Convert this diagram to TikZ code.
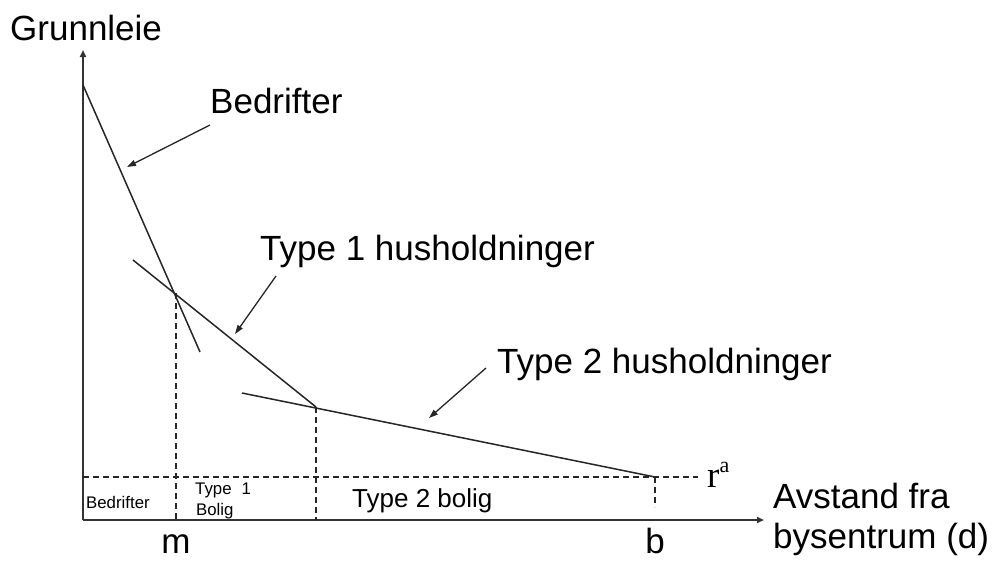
\documentclass[tikz,border=0pt]{standalone}
\usepackage{fontspec}
\setmainfont{Liberation Sans}
\newfontfamily\serifrm{Liberation Serif}
\usetikzlibrary{arrows.meta}
\begin{document}
\begin{tikzpicture}[x=1pt,y=-1pt,
  axis/.style={line width=1.8pt,draw=black!80,-{Triangle[length=7pt,width=6pt]}},
  curve/.style={line width=1.5pt,draw=black!85},
  guide/.style={line width=1.2pt,draw=black!85,dash pattern=on 6pt off 4pt},
  pointer/.style={line width=1.3pt,draw=black!85,-{Triangle[length=9pt,width=6pt]}},
  big/.style={font=\fontsize{35}{39}\selectfont,inner sep=0pt},
  mid/.style={font=\fontsize{26}{28}\selectfont,inner sep=0pt},
  small/.style={font=\fontsize{16.8}{19}\selectfont,inner sep=0pt}]
\useasboundingbox (0,0) rectangle (993,560);
% key points
\coordinate (O) at (83,520);
\coordinate (ytop) at (83,50);
\coordinate (xend) at (764,520);
\coordinate (B0) at (83,85);
\coordinate (B1) at (200,352);
\coordinate (T1a) at (133,260);
\coordinate (T1b) at (316,407);
\coordinate (T2a) at (242,393);
\coordinate (T2b) at (655,477);
\coordinate (M) at (176,293);
\coordinate (Mbot) at (176,520);
\coordinate (K) at (316,407);
\coordinate (Kbot) at (316,520);
\coordinate (Bb) at (655,477);
\coordinate (Bbot) at (655,507);
\coordinate (Ra0) at (83,477);
\coordinate (Ra1) at (698,477);
% axes
\draw[axis] (O) -- (ytop);
\draw[axis] (O) -- (xend);
% guides
\draw[guide] (Ra0) -- (Ra1);
\draw[guide] (M) -- (Mbot);
\draw[guide] (K) -- (Kbot);
\draw[guide] (Bb) -- (Bbot);
% bid-rent lines
\draw[curve] (B0) -- (B1);
\draw[curve] (T1a) -- (T1b);
\draw[curve] (T2a) -- (T2b);
% labels
\node[big,anchor=base west] (ylab) at (10,40) {Grunnleie};
\node[big,anchor=base west] (lbed) at (210,113) {Bedrifter};
\node[big,anchor=base west] (lt1) at (260,260) {Type 1 husholdninger};
\node[big,anchor=base west] (lt2) at (497,373) {Type 2 husholdninger};
\node[big,anchor=base west] (xlab1) at (773,508) {Avstand fra};
\node[big,anchor=base west] (xlab2) at (773,548) {bysentrum (d)};
\node[big,anchor=base] (lm) at (176,553) {m};
\node[big,anchor=base] (lb) at (655,553) {b};
\node[inner sep=0pt,anchor=base west,font=\serifrm\fontsize{37}{40}\selectfont] (lra) at (707,487) {r\raisebox{15pt}{\fontsize{22}{24}\selectfont a}};
\node[small,anchor=base west] (zb) at (86,508) {Bedrifter};
\node[small,anchor=base west] (z1a) at (195,494) {Type\hspace{0.6em}1};
\node[small,anchor=base west] (z1b) at (196,515) {Bolig};
\node[mid,anchor=base west] (z2) at (352,507) {Type 2 bolig};
% pointers
\coordinate (p1s) at (210,125);
\coordinate (p1e) at (127,167);
\coordinate (p2s) at (276,276);
\coordinate (p2e) at (235,334);
\coordinate (p3s) at (486,368);
\coordinate (p3e) at (429,418);
\draw[pointer] (p1s) -- (p1e);
\draw[pointer] (p2s) -- (p2e);
\draw[pointer] (p3s) -- (p3e);
\end{tikzpicture}
\end{document}
